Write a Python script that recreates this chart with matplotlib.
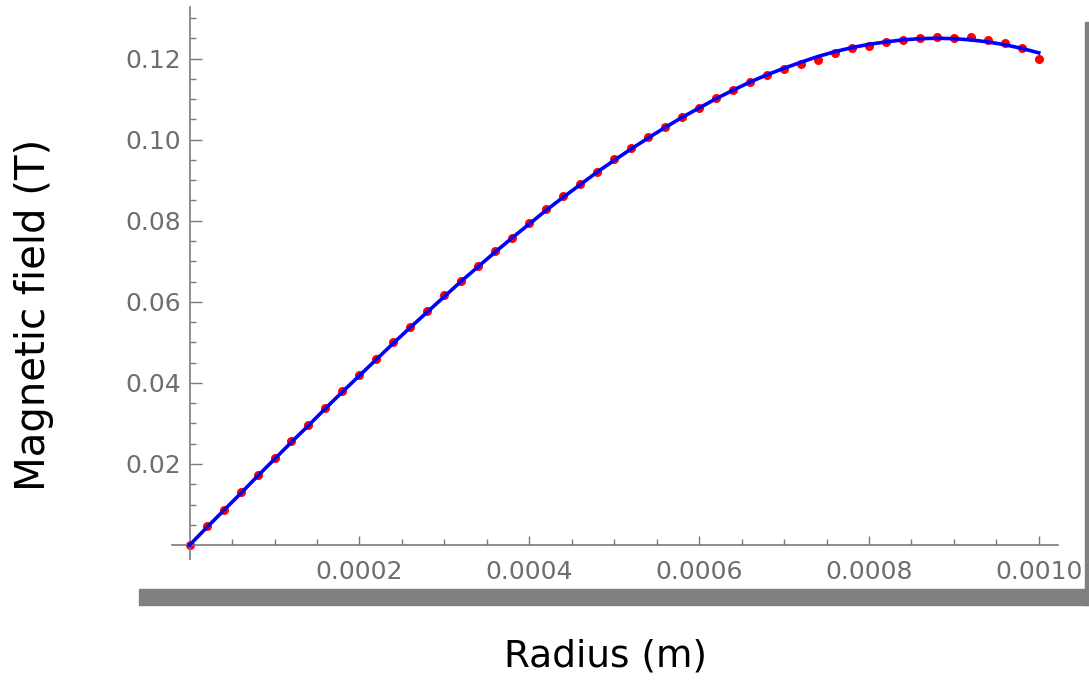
import matplotlib
matplotlib.use("Agg")
import matplotlib.pyplot as plt
from matplotlib.patches import Rectangle

# radius samples in micrometres (one dot every 20 um)
radius_um = [0, 20, 40, 60, 80, 100, 120, 140, 160, 180,
             200, 220, 240, 260, 280, 300, 320, 340, 360, 380,
             400, 420, 440, 460, 480, 500, 520, 540, 560, 580,
             600, 620, 640, 660, 680, 700, 720, 740, 760, 780,
             800, 820, 840, 860, 880, 900, 920, 940, 960, 980,
             1000]

# measured field (red dots), tesla
field_meas = [0.0000, 0.0046, 0.0086, 0.0130, 0.0172, 0.0214, 0.0256, 0.0296, 0.0338, 0.0379,
              0.0420, 0.0460, 0.0500, 0.0537, 0.0577, 0.0616, 0.0652, 0.0688, 0.0726, 0.0758,
              0.0794, 0.0830, 0.0860, 0.0891, 0.0921, 0.0952, 0.0979, 0.1006, 0.1031, 0.1057,
              0.1079, 0.1103, 0.1123, 0.1143, 0.1160, 0.1173, 0.1186, 0.1197, 0.1213, 0.1226,
              0.1232, 0.1240, 0.1246, 0.1250, 0.1252, 0.1251, 0.1252, 0.1245, 0.1238, 0.1225,
              0.1198]

# fitted curve (blue line), tesla
field_fit = [0.0000, 0.0043, 0.0085, 0.0127, 0.0170, 0.0212, 0.0254, 0.0295, 0.0337, 0.0378,
             0.0418, 0.0458, 0.0498, 0.0537, 0.0575, 0.0613, 0.0651, 0.0687, 0.0723, 0.0758,
             0.0792, 0.0826, 0.0858, 0.0889, 0.0920, 0.0949, 0.0977, 0.1004, 0.1030, 0.1055,
             0.1078, 0.1101, 0.1122, 0.1142, 0.1160, 0.1176, 0.1191, 0.1205, 0.1217, 0.1227,
             0.1235, 0.1241, 0.1246, 0.1249, 0.1250, 0.1249, 0.1246, 0.1241, 0.1234, 0.1225,
             0.1214]

x_ticks = [0.0002, 0.0004, 0.0006, 0.0008, 0.0010]
x_labels = ["0.0002", "0.0004", "0.0006", "0.0008", "0.0010"]
y_ticks = [0.02, 0.04, 0.06, 0.08, 0.10, 0.12]
y_labels = ["0.02", "0.04", "0.06", "0.08", "0.10", "0.12"]

radius = [r * 1e-6 for r in radius_um]

W, H = 1089, 680
fig = plt.figure(figsize=(W / 100, H / 100), dpi=100)

# axes box in pixels: left 172, right 1058, top 7, bottom 559
ax = fig.add_axes([172 / W, 1 - 559 / H, (1058 - 172) / W, (559 - 7) / H])
ax.set_xlim(-0.0000207, 0.0010226)
ax.set_ylim(-0.00343, 0.13271)

ax.plot(radius, field_meas, "o", color="#ff0000", markersize=6.5,
        markeredgewidth=0, zorder=2, clip_on=False)
ax.plot(radius, field_fit, "-", color="#0000ff", linewidth=2.6, zorder=3,
        clip_on=False)

axis_col = "#7a7a7a"
for s in ["top", "right"]:
    ax.spines[s].set_visible(False)
ax.spines["left"].set_position(("data", 0))
ax.spines["bottom"].set_position(("data", 0))
for s in ["left", "bottom"]:
    ax.spines[s].set_color(axis_col)
    ax.spines[s].set_linewidth(1.2)

ax.set_xticks(x_ticks)
ax.set_xticklabels(x_labels)
ax.set_yticks(y_ticks)
ax.set_yticklabels(y_labels)
ax.set_xticks([0.00005, 0.0001, 0.00015, 0.00025, 0.0003, 0.00035, 0.00045,
               0.0005, 0.00055, 0.00065, 0.0007, 0.00075, 0.00085, 0.0009,
               0.00095], minor=True)
ax.set_yticks([0.005, 0.01, 0.015, 0.025, 0.03, 0.035, 0.045, 0.05, 0.055,
               0.065, 0.07, 0.075, 0.085, 0.09, 0.095, 0.105, 0.11, 0.115,
               0.125, 0.13], minor=True)

ax.tick_params(axis="x", which="major", direction="in", length=6.5, width=1.0,
               color=axis_col, labelcolor="#6e6e6e", labelsize=18, pad=11)
ax.tick_params(axis="x", which="minor", direction="in", length=4.5, width=1.0,
               color=axis_col)
ax.tick_params(axis="y", which="major", direction="in", length=8.5, width=1.0,
               color=axis_col, labelcolor="#6e6e6e", labelsize=18, pad=6)
ax.tick_params(axis="y", which="minor", direction="in", length=4.0, width=1.0,
               color=axis_col)

# gray frame strips along the bottom and right
fig.patches.append(Rectangle((139 / W, 1 - 605 / H), (W - 139) / W, 16 / H,
                             transform=fig.transFigure, color="#808080"))
fig.patches.append(Rectangle((1085 / W, 1 - 605 / H), 4 / W, (605 - 22) / H,
                             transform=fig.transFigure, color="#808080"))

fig.text(34 / W, 1 - 315 / H, "Magnetic field (T)", rotation=90,
         ha="center", va="center", fontsize=29, family="DejaVu Sans")
fig.text(606 / W, 1 - 667 / H, "Radius (m)", ha="center", va="baseline",
         fontsize=27, family="DejaVu Sans")

plt.savefig("out.png", dpi=100)
